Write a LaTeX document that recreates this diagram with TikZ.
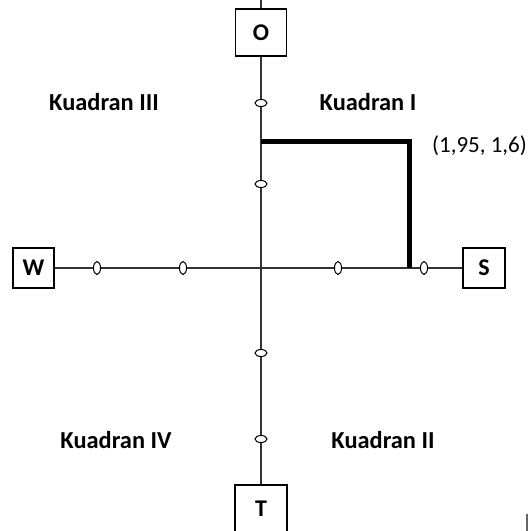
\documentclass[tikz,border=0pt]{standalone}
\usepackage{fontspec}
\setmainfont{Carlito}
\usetikzlibrary{shapes.geometric}
\tikzset{%
  box/.style={rectangle,draw,fill=white,line width=0.6pt,font=\fontsize{12}{14}\selectfont\bfseries,inner sep=0pt},
  vtick/.style={ellipse,draw,fill=white,line width=0.5pt,inner sep=0pt,minimum width=3.5pt,minimum height=6.5pt},
  htick/.style={ellipse,draw,fill=white,line width=0.5pt,inner sep=0pt,minimum width=6pt,minimum height=3.5pt},
  axis/.style={draw=black!80,line width=0.7pt},
  bracket/.style={line width=2.5pt},
  quad/.style={font=\fontsize{12.2}{15}\selectfont\bfseries}
}

\begin{document}
\begin{tikzpicture}[x=0.5pt,y=-0.5pt,font=\fontsize{11.5}{13}\selectfont]
  \useasboundingbox (0,0) rectangle (529,531);
  \coordinate (top) at (261,0);
  \node[box,minimum width=25.5pt,minimum height=23.5pt] (O) at (261,32.5) {O};
  \node[box,minimum width=26pt,minimum height=23.5pt] (T) at (261,508.5) {T};
  \node[box,minimum width=20.5pt,minimum height=20pt] (W) at (33.5,268) {W};
  \node[box,minimum width=21pt,minimum height=20pt] (S) at (484,268) {S};
  \draw[axis] (top)--(O);
  \draw[axis] (O)--(T);
  \draw[axis] (W)--(S);
  %%%
  \foreach \x [count=\i] in {97,183,338,424}
    \node[vtick] (v\i) at (\x,268) {};
  \foreach \y [count=\i] in {103,184,353,439}
    \node[htick] (h\i) at (261,\y) {};
  %%%
  \coordinate (b0) at (261,141);
  \coordinate (b1) at (409,141);
  \coordinate (b2) at (409,268);
  \draw[bracket] (b0)--(b1)--(b2);
  \node (pt) at (479.5,146) {(1,95, 1,6)};
  %%%
  \node[quad] (q3) at (104,102) {Kuadran III};
  \node[quad] (q1) at (368,102) {Kuadran I};
  \node[quad] (q4) at (116,440) {Kuadran IV};
  \node[quad] (q2) at (383,440) {Kuadran II};
  \draw[black!60,line width=1pt] (527,514)--(527,531);
\end{tikzpicture}
\end{document}
